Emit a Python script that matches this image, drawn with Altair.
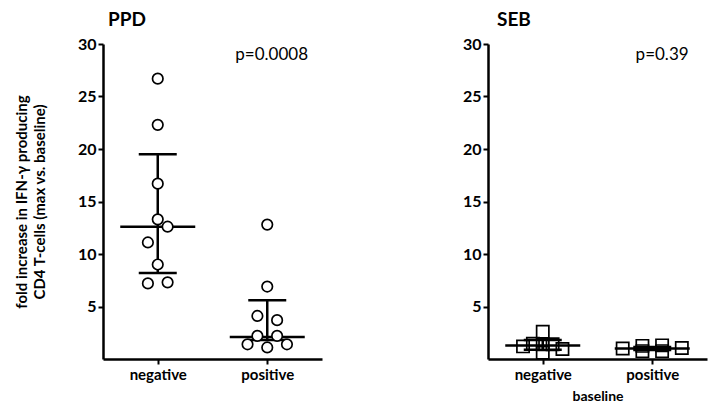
import altair as alt
import pandas as pd

FONT = "Lato"

# ---- data ----
groups = ["negative", "positive"]
group_pos = [0.5, 1.5]          # category centres on the x scale (domain 0..2)
slot_unit = 0.09                # jitter slot width in x units

ppd_neg_vals = [26.7, 22.3, 16.7, 13.3, 12.6, 11.1, 9.0, 7.2, 7.3]
ppd_neg_slot = [0, 0, 0, 0, 1, -1, 0, -1, 1]
ppd_pos_vals = [12.8, 6.9, 4.1, 3.7, 2.2, 2.2, 1.4, 1.1, 1.4]
ppd_pos_slot = [0, 0, -1, 1, -1, 1, -2, 0, 2]

seb_neg_vals = [1.2, 1.45, 2.6, 1.4, 0.6, 1.4, 0.95]
seb_neg_slot = [-2, -1, 0, 0, 0, 1, 2]
seb_pos_vals = [1.0, 1.25, 0.75, 1.3, 0.75, 1.05]
seb_pos_slot = [-3, -1, -1, 1, 1, 3]

ppd_median = [12.6, 2.1]
ppd_q1 = [8.2, 1.8]
ppd_q3 = [19.5, 5.6]
seb_median = [1.29, 1.0]
seb_q1 = [0.88, 0.85]
seb_q3 = [1.8, 1.15]

y_ticks = [5, 10, 15, 20, 25, 30]


def points_df(neg_vals, neg_slot, pos_vals, pos_slot):
    rows = []
    for v, s in zip(neg_vals, neg_slot):
        rows.append({"group": groups[0], "center": group_pos[0], "slot": s, "value": v})
    for v, s in zip(pos_vals, pos_slot):
        rows.append({"group": groups[1], "center": group_pos[1], "slot": s, "value": v})
    return pd.DataFrame(rows)


def stats_df(med, q1, q3):
    return pd.DataFrame({"group": groups, "center": group_pos,
                         "median": med, "q1": q1, "q3": q3})


def panel(title, title_dx, pts, stats, shape, pval, pval_x, show_ytitle, show_xtitle):
    xscale = alt.Scale(domain=[0, 2], nice=False, zero=False)
    yscale = alt.Scale(domain=[0, 30], nice=False)

    xaxis = alt.Axis(values=group_pos,
                     labelExpr="datum.value < 1 ? 'negative' : 'positive'",
                     title="baseline" if show_xtitle else None,
                     titleFont=FONT, titleFontSize=14, titleFontWeight="bold",
                     titleColor="black", titlePadding=7,
                     labelFont=FONT, labelFontSize=15, labelFontWeight="bold",
                     labelColor="black", labelPadding=3,
                     domainColor="black", domainWidth=2.5,
                     tickColor="black", tickWidth=2, tickSize=5, grid=False)
    yaxis = alt.Axis(values=y_ticks,
                     title=(["fold increase in IFN-\u03b3 producing",
                             "CD4 T-cells (max vs. baseline)"] if show_ytitle else None),
                     titleFont=FONT, titleFontSize=15, titleFontWeight="bold",
                     titleColor="black", titlePadding=30, titleLineHeight=18,
                     labelFont=FONT, labelFontSize=16, labelFontWeight="bold",
                     labelColor="black", labelPadding=2,
                     domainColor="black", domainWidth=2.5,
                     tickColor="black", tickWidth=2, tickSize=5, grid=False)

    base_pts = alt.Chart(pts).transform_calculate(
        xpos=f"datum.center + datum.slot * {slot_unit}")
    if shape == "circle":
        pmark = base_pts.mark_point(shape="circle", size=110, fill="white",
                                    fillOpacity=1, filled=False, stroke="black",
                                    strokeWidth=1.7, opacity=1)
    else:
        pmark = base_pts.mark_point(shape="square", size=150, filled=False,
                                    stroke="black", strokeWidth=1.7, opacity=1)
    pointlayer = pmark.encode(
        x=alt.X("xpos:Q", scale=xscale, axis=xaxis),
        y=alt.Y("value:Q", scale=yscale, axis=yaxis),
    )

    sb = alt.Chart(stats)
    vrule = sb.mark_rule(color="black", strokeWidth=2.5).encode(
        x=alt.X("center:Q", scale=xscale), y=alt.Y("q1:Q", scale=yscale), y2="q3:Q")
    med = sb.mark_tick(orient="horizontal", size=75, thickness=2.5, color="black",
                       opacity=1).encode(
        x=alt.X("center:Q", scale=xscale), y=alt.Y("median:Q", scale=yscale))
    cap_hi = sb.mark_tick(orient="horizontal", size=38, thickness=2.5, color="black",
                          opacity=1).encode(
        x=alt.X("center:Q", scale=xscale), y=alt.Y("q3:Q", scale=yscale))
    cap_lo = sb.mark_tick(orient="horizontal", size=38, thickness=2.5, color="black",
                          opacity=1).encode(
        x=alt.X("center:Q", scale=xscale), y=alt.Y("q1:Q", scale=yscale))

    ptext = alt.Chart().mark_text(font=FONT, fontSize=17, color="black",
                                  align="center", baseline="middle").encode(
        x=alt.datum(pval_x), y=alt.datum(29.0), text=alt.datum(pval))

    if shape == "circle":
        layers = [pointlayer.mark_point(opacity=0), vrule, med, cap_hi, cap_lo,
                  pointlayer, ptext]
    else:
        layers = [pointlayer, vrule, med, cap_hi, cap_lo, ptext]

    return alt.layer(*layers).properties(
        width=219, height=315,
        title=alt.Title(title, anchor="start", frame="group", dx=title_dx,
                        font=FONT, fontSize=19, fontWeight="bold", color="black",
                        offset=6),
    )


left = panel("PPD", 5, points_df(ppd_neg_vals, ppd_neg_slot, ppd_pos_vals, ppd_pos_slot),
             stats_df(ppd_median, ppd_q1, ppd_q3), "circle", "p=0.0008", 1.54, True, False)
right = panel("SEB", 9, points_df(seb_neg_vals, seb_neg_slot, seb_pos_vals, seb_pos_slot),
              stats_df(seb_median, seb_q1, seb_q3), "square", "p=0.39", 1.59, False, True)

chart = alt.hconcat(left, right, spacing=140).properties(
    padding={"left": 6, "top": 3, "right": 2, "bottom": 2},
    background="white",
).configure_view(stroke=None)

chart.save("out.html", embed_options={"renderer": "svg", "actions": False})
